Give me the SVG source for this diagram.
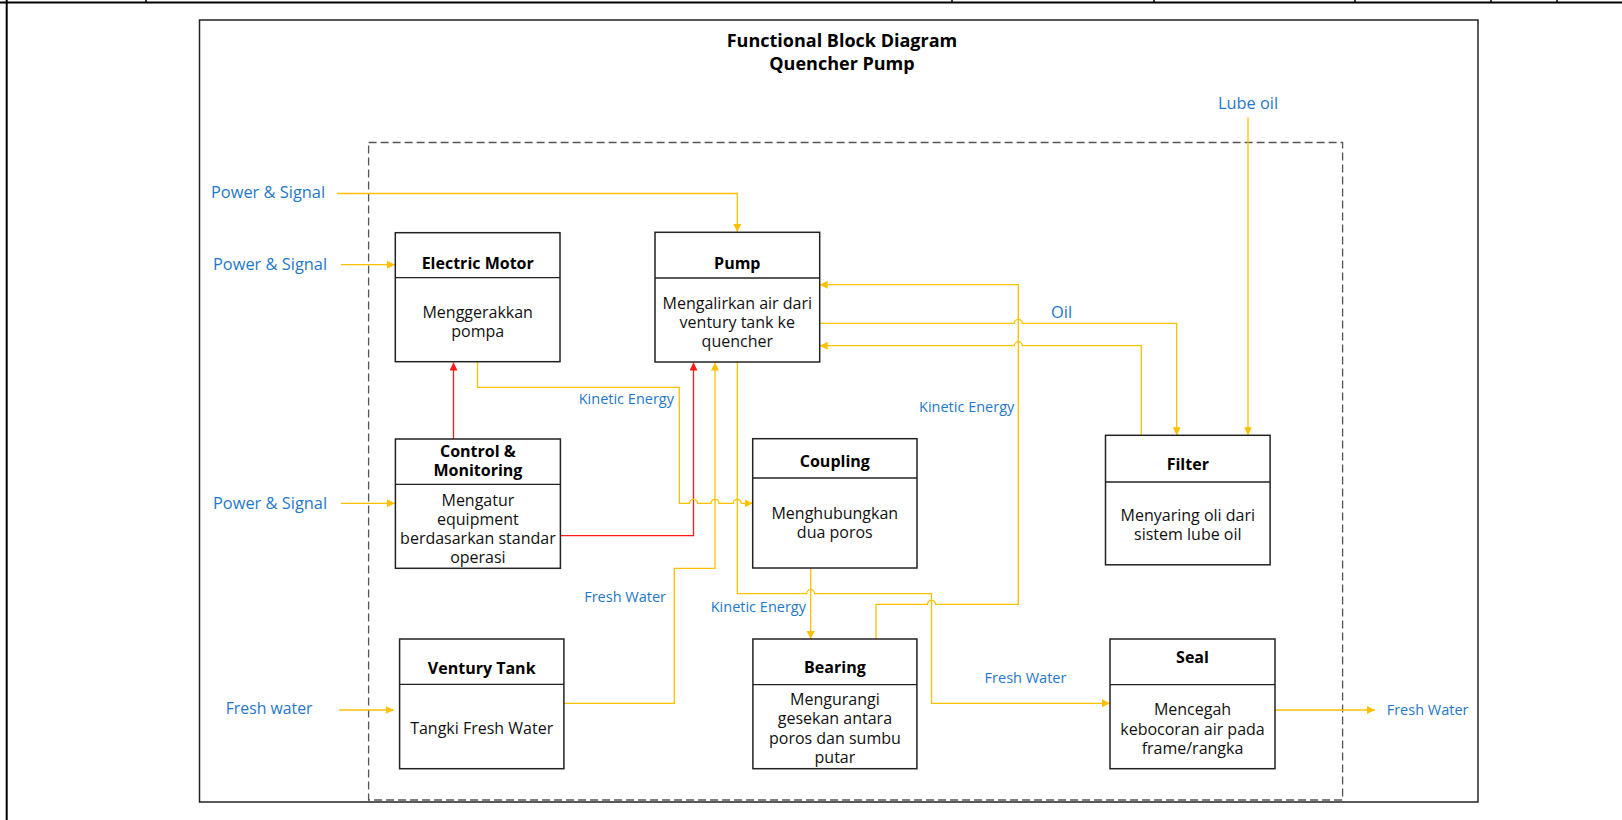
<svg xmlns="http://www.w3.org/2000/svg" width="1622" height="820" viewBox="0 0 1622 820">
<style>
.box{fill:#fff;stroke:#222;stroke-width:1.5}
.div{stroke:#222;stroke-width:1.3}
.t{font-family:"Open Sans","Noto Sans",sans-serif;font-size:16px;fill:#111;text-anchor:middle}
.tb{font-family:"Open Sans","Noto Sans",sans-serif;font-size:16px;font-weight:bold;fill:#000;text-anchor:middle}
.lbl{font-family:"Open Sans","Noto Sans",sans-serif;font-size:16.4px;fill:#1F78C8}
.sl{font-family:"Open Sans","Noto Sans",sans-serif;font-size:14.5px;fill:#1F78C8}
.y{fill:none;stroke:#FFC000;stroke-width:1.3}
.r{fill:none;stroke:#FF1A1A;stroke-width:1.3}
</style>
<defs>
<marker id="ay" markerUnits="userSpaceOnUse" markerWidth="9" markerHeight="9" refX="8" refY="4" orient="auto"><path d="M0,0 L8,4 L0,8 z" fill="#FFC000"/></marker>
<marker id="ar" markerUnits="userSpaceOnUse" markerWidth="9" markerHeight="9" refX="8" refY="4" orient="auto"><path d="M0,0 L8,4 L0,8 z" fill="#FF1A1A"/></marker>
</defs>
<rect width="1622" height="820" fill="#fff"/>
<g id="frame">
<line x1="0" y1="2.5" x2="1622" y2="2.5" stroke="#000" stroke-width="2.2"/>
<line x1="6.7" y1="0" x2="6.7" y2="820" stroke="#000" stroke-width="2"/>
<g stroke="#000" stroke-width="1.5">
<line x1="146" y1="0" x2="146" y2="3"/><line x1="952" y1="0" x2="952" y2="3"/><line x1="1154" y1="0" x2="1154" y2="3"/><line x1="1355" y1="0" x2="1355" y2="3"/><line x1="1491" y1="0" x2="1491" y2="3"/><line x1="1557" y1="0" x2="1557" y2="3"/>
</g>
<rect x="199.5" y="20" width="1278.5" height="782" fill="none" stroke="#222" stroke-width="1.5"/>
<rect x="368.6" y="142.5" width="974" height="657.5" fill="none" stroke="#555" stroke-width="1.3" stroke-dasharray="8 4"/>
<text class="tb" x="842" y="46.5" style="font-size:18px">Functional Block Diagram</text>
<text class="tb" x="842" y="70" style="font-size:18px">Quencher Pump</text>
</g>
<g id="connectors">
<path class="y" d="M337,193.5 H737.3 V232" marker-end="url(#ay)"/>
<path class="y" d="M341,264.7 H395" marker-end="url(#ay)"/>
<path class="y" d="M341,503.3 H395" marker-end="url(#ay)"/>
<path class="y" d="M339,710 H393.6" marker-end="url(#ay)"/>
<path class="r" d="M453.5,439 V362.5" marker-end="url(#ar)"/>
<path class="r" d="M560.4,535.7 H693.5 V362.5" marker-end="url(#ar)"/>
<path class="y" d="M477.5,362 V387.3 H679.3 V503.3 H689.5 A4,4 0 0 1 697.5,503.3 H711 A4,4 0 0 1 719,503.3 H733.3 A4,4 0 0 1 741.3,503.3 H752.7" marker-end="url(#ay)"/>
<path class="y" d="M563.9,703.3 H674.3 V568.3 H715 V362.5" marker-end="url(#ay)"/>
<path class="y" d="M737.3,362 V593.7 H806.7 A4,4 0 0 1 814.7,593.7 H931.5 V703.3 H1110" marker-end="url(#ay)"/>
<path class="y" d="M810.7,568 V639" marker-end="url(#ay)"/>
<path class="y" d="M876,639 V604.3 H927.5 A4,4 0 0 1 935.5,604.3 H1018.3 V284.7 H819.7" marker-end="url(#ay)"/>
<path class="y" d="M819.7,323.3 H1014.3 A4,4 0 0 1 1022.3,323.3 H1176.7 V435.3" marker-end="url(#ay)"/>
<path class="y" d="M1141.3,435.3 V345.7 H1022.3 A4,4 0 0 0 1014.3,345.7 H819.7" marker-end="url(#ay)"/>
<path class="y" d="M1248,117.3 V435.3" marker-end="url(#ay)"/>
<path class="y" d="M1275,710 H1375" marker-end="url(#ay)"/>
<text class="lbl" x="211" y="198">Power &amp; Signal</text>
<text class="lbl" x="213" y="269.5">Power &amp; Signal</text>
<text class="lbl" x="213" y="509">Power &amp; Signal</text>
<text class="lbl" x="225.7" y="714" style="font-size:15.8px">Fresh water</text>
<text class="lbl" x="1248" y="109" text-anchor="middle">Lube oil</text>
<text class="lbl" x="1051" y="317.7">Oil</text>
<text class="sl" x="674" y="404" text-anchor="end">Kinetic Energy</text>
<text class="sl" x="1014.3" y="411.7" text-anchor="end">Kinetic Energy</text>
<text class="sl" x="666" y="601.7" text-anchor="end">Fresh Water</text>
<text class="sl" x="806" y="612.3" text-anchor="end">Kinetic Energy</text>
<text class="sl" x="984.6" y="682.7">Fresh Water</text>
<text class="sl" x="1386.7" y="715">Fresh Water</text>
</g>
<g id="electric-motor">
<rect class="box" x="395.3" y="232.7" width="164.7" height="129"/>
<line class="div" x1="395.3" y1="277.7" x2="560" y2="277.7"/>
<text class="tb" x="477.7" y="269">Electric Motor</text>
<text class="t" x="477.7" y="318">Menggerakkan</text>
<text class="t" x="477.7" y="337">pompa</text>
</g>
<g id="pump">
<rect class="box" x="655" y="232.3" width="164.7" height="129.7"/>
<line class="div" x1="655" y1="278" x2="819.7" y2="278"/>
<text class="tb" x="737.3" y="269.3">Pump</text>
<text class="t" x="737.3" y="309">Mengalirkan air dari</text>
<text class="t" x="737.3" y="328">ventury tank ke</text>
<text class="t" x="737.3" y="347">quencher</text>
</g>
<g id="control-monitoring">
<rect class="box" x="395.4" y="439" width="165" height="129.3"/>
<line class="div" x1="395.4" y1="484.3" x2="560.4" y2="484.3"/>
<text class="tb" x="477.9" y="456.7">Control &amp;</text>
<text class="tb" x="477.9" y="475.7">Monitoring</text>
<text class="t" x="477.9" y="506">Mengatur</text>
<text class="t" x="477.9" y="525">equipment</text>
<text class="t" x="477.9" y="544">berdasarkan standar</text>
<text class="t" x="477.9" y="563">operasi</text>
</g>
<g id="coupling">
<rect class="box" x="752.7" y="438.7" width="164.3" height="129.3"/>
<line class="div" x1="752.7" y1="478" x2="917" y2="478"/>
<text class="tb" x="834.8" y="466.7">Coupling</text>
<text class="t" x="834.8" y="519.3">Menghubungkan</text>
<text class="t" x="834.8" y="538.3">dua poros</text>
</g>
<g id="filter">
<rect class="box" x="1105.5" y="435.3" width="164.6" height="129.5"/>
<line class="div" x1="1105.5" y1="482" x2="1270.1" y2="482"/>
<text class="tb" x="1187.8" y="470">Filter</text>
<text class="t" x="1187.8" y="520.5">Menyaring oli dari</text>
<text class="t" x="1187.8" y="540">sistem lube oil</text>
</g>
<g id="ventury-tank">
<rect class="box" x="399.6" y="639" width="164.3" height="129.7"/>
<line class="div" x1="399.6" y1="684.3" x2="563.9" y2="684.3"/>
<text class="tb" x="481.7" y="674">Ventury Tank</text>
<text class="t" x="481.7" y="734.3">Tangki Fresh Water</text>
</g>
<g id="bearing">
<rect class="box" x="752.9" y="639" width="164" height="129.7"/>
<line class="div" x1="752.9" y1="684.7" x2="916.9" y2="684.7"/>
<text class="tb" x="834.9" y="673.3">Bearing</text>
<text class="t" x="834.9" y="704.5">Mengurangi</text>
<text class="t" x="834.9" y="724">gesekan antara</text>
<text class="t" x="834.9" y="743.5">poros dan sumbu</text>
<text class="t" x="834.9" y="763">putar</text>
</g>
<g id="seal">
<rect class="box" x="1110" y="639" width="165" height="129.7"/>
<line class="div" x1="1110" y1="684.7" x2="1275" y2="684.7"/>
<text class="tb" x="1192.5" y="663.3">Seal</text>
<text class="t" x="1192.5" y="715">Mencegah</text>
<text class="t" x="1192.5" y="734.5">kebocoran air pada</text>
<text class="t" x="1192.5" y="754">frame/rangka</text>
</g>
</svg>
